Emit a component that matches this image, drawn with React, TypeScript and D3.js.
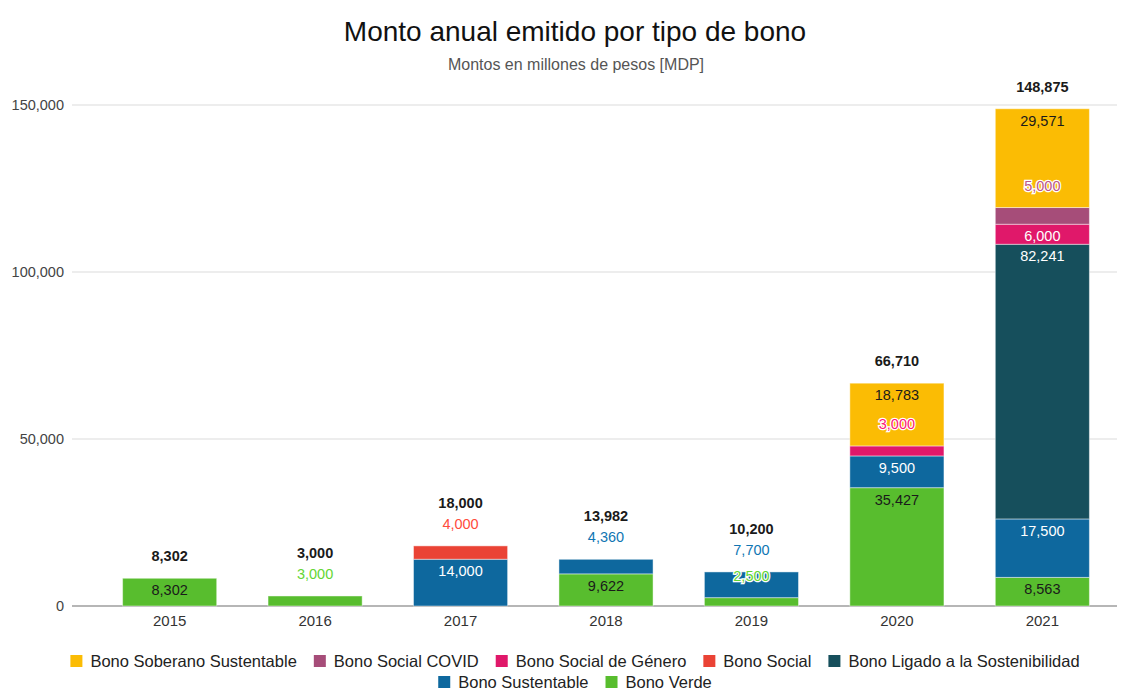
import React, { useRef, useEffect } from 'react';
import * as d3 from 'd3';

// Years (categories)
const years = ['2015', '2016', '2017', '2018', '2019', '2020', '2021'];

// Series, bottom of the stack first
const seriesNames = [
  'Bono Verde',
  'Bono Sustentable',
  'Bono Ligado a la Sostenibilidad',
  'Bono Social',
  'Bono Social de Género',
  'Bono Social COVID',
  'Bono Soberano Sustentable',
];
const seriesColors = ['#58bd2e', '#0e689e', '#164f5c', '#ea4335', '#e0186a', '#a64d79', '#fbbc04'];

// Values per year (millones de pesos)
const verde = [8302, 3000, 0, 9622, 2500, 35427, 8563];
const sustentable = [0, 0, 14000, 4360, 7700, 9500, 17500];
const ligado = [0, 0, 0, 0, 0, 0, 82241];
const social = [0, 0, 4000, 0, 0, 0, 0];
const genero = [0, 0, 0, 0, 0, 3000, 6000];
const covid = [0, 0, 0, 0, 0, 0, 5000];
const soberano = [0, 0, 0, 0, 0, 18783, 29571];

const yTicks = [0, 50000, 100000, 150000];

const FONT = 'Arial, "Liberation Sans", sans-serif';

const App = () => {
  const svgRef = useRef(null);
  const width = 1130;
  const height = 691;

  useEffect(() => {
    const svg = d3.select(svgRef.current);
    svg.selectAll('*').remove();

    const values = [verde, sustentable, ligado, social, genero, covid, soberano];
    const rows = years.map((yr, i) => {
      const r = { year: yr };
      seriesNames.forEach((s, k) => { r[s] = values[k][i]; });
      return r;
    });
    const stacked = d3.stack().keys(seriesNames)(rows);
    const totals = rows.map(r => d3.sum(seriesNames, s => r[s]));

    const x = d3.scaleBand().domain(years).range([97, 1115]).paddingInner(0.353).paddingOuter(0.176);
    const y = d3.scaleLinear().domain([0, 150000]).range([606, 105]);
    const fmt = d3.format(',');

    // Title
    svg.append('text')
      .attr('x', 575).attr('y', 41)
      .attr('text-anchor', 'middle')
      .attr('font-family', FONT).attr('font-size', 28).attr('fill', '#111')
      .text('Monto anual emitido por tipo de bono');
    svg.append('text')
      .attr('x', 576).attr('y', 70)
      .attr('text-anchor', 'middle')
      .attr('font-family', FONT).attr('font-size', 16).attr('fill', '#555')
      .text('Montos en millones de pesos [MDP]');

    // Grid + y axis labels
    const grid = svg.append('g');
    yTicks.forEach(t => {
      grid.append('line')
        .attr('x1', 72).attr('x2', 1117)
        .attr('y1', y(t)).attr('y2', y(t))
        .attr('stroke', t === 0 ? '#9e9e9e' : '#dcdcdc')
        .attr('stroke-width', t === 0 ? 1.5 : 1.2);
      grid.append('text')
        .attr('x', 64).attr('y', y(t))
        .attr('dy', '0.35em')
        .attr('text-anchor', 'end')
        .attr('font-family', FONT).attr('font-size', 14.5).attr('fill', '#444')
        .text(fmt(t));
    });

    // Bars
    const bars = svg.append('g');
    stacked.forEach((layer, k) => {
      bars.selectAll(null)
        .data(layer.filter(d => d[1] - d[0] > 0))
        .enter()
        .append('rect')
        .attr('x', d => x(d.data.year))
        .attr('y', d => y(d[1]))
        .attr('width', x.bandwidth())
        .attr('height', d => y(d[0]) - y(d[1]))
        .attr('fill', seriesColors[k])
        .attr('stroke', 'rgba(255,255,255,0.45)')
        .attr('stroke-width', 1);
    });

    // Axis year labels
    years.forEach(yr => {
      svg.append('text')
        .attr('x', x(yr) + x.bandwidth() / 2).attr('y', 626)
        .attr('text-anchor', 'middle')
        .attr('font-family', FONT).attr('font-size', 15).attr('fill', '#333')
        .text(yr);
    });

    // Data labels
    const lum = c => {
      const rgb = d3.rgb(c);
      const f = v => { v /= 255; return v <= 0.03928 ? v / 12.92 : Math.pow((v + 0.055) / 1.055, 2.4); };
      return 0.2126 * f(rgb.r) + 0.7152 * f(rgb.g) + 0.0722 * f(rgb.b);
    };
    const labels = svg.append('g').attr('font-family', FONT).attr('font-size', 14.5);
    years.forEach((yr, i) => {
      const cx = x(yr) + x.bandwidth() / 2;
      let lastOut = Infinity;
      const outs = [];
      stacked.forEach((layer, k) => {
        const d = layer[i];
        const v = d[1] - d[0];
        if (v <= 0) return;
        const top = y(d[1]);
        const h = y(d[0]) - top;
        const inY = top + 12;
        const clash = outs.some(o => Math.abs(o - inY) < 18);
        if (h >= 18 && !clash) {
          labels.append('text')
            .attr('x', cx).attr('y', inY).attr('dy', '0.35em')
            .attr('text-anchor', 'middle')
            .attr('fill', lum(seriesColors[k]) > 0.3 ? '#1a1a1a' : '#fff')
            .text(fmt(v));
        } else {
          const cy = Math.min(top - 22, lastOut - 21);
          lastOut = cy;
          outs.push(cy);
          labels.append('text')
            .attr('x', cx).attr('y', cy).attr('dy', '0.35em')
            .attr('text-anchor', 'middle')
            .attr('fill', d3.color(seriesColors[k]).brighter(0.35))
            .attr('stroke', '#fff').attr('stroke-width', 2.5)
            .attr('paint-order', 'stroke')
            .text(fmt(v));
        }
      });
      const tY = Math.min(y(totals[i]) - 22, lastOut - 21);
      labels.append('text')
        .attr('x', cx).attr('y', tY).attr('dy', '0.35em')
        .attr('text-anchor', 'middle')
        .attr('font-weight', 'bold').attr('fill', '#1a1a1a')
        .text(fmt(totals[i]));
    });

    // Legend (reverse order), wrapped and centered
    const legendItems = seriesNames.map((s, k) => ({ name: s, color: seriesColors[k] })).reverse();
    const legend = svg.append('g').attr('font-family', FONT).attr('font-size', 16.5);
    const measure = legend.append('text');
    legendItems.forEach(it => {
      measure.text(it.name);
      it.w = 12 + 8 + measure.node().getComputedTextLength();
    });
    measure.remove();
    const gap = 17;
    const maxW = 1100;
    const lines = [[]];
    let lineW = 0;
    legendItems.forEach(it => {
      const cur = lines[lines.length - 1];
      const add = cur.length ? gap + it.w : it.w;
      if (cur.length && lineW + add > maxW) {
        lines.push([it]);
        lineW = it.w;
      } else {
        cur.push(it);
        lineW += add;
      }
    });
    lines.forEach((line, li) => {
      const total = d3.sum(line, it => it.w) + gap * (line.length - 1);
      let lx = 575 - total / 2;
      const ly = 661 + li * 21;
      line.forEach(it => {
        legend.append('rect')
          .attr('x', lx).attr('y', ly - 6)
          .attr('width', 12).attr('height', 12)
          .attr('fill', it.color);
        legend.append('text')
          .attr('x', lx + 20).attr('y', ly).attr('dy', '0.35em')
          .attr('fill', '#222')
          .text(it.name);
        lx += it.w + gap;
      });
    });
  }, []);

  return (
    <svg
      ref={svgRef}
      width={width}
      height={height}
      style={{ position: 'absolute', left: 0, top: 0, background: '#fff' }}
    />
  );
};

export default App;
